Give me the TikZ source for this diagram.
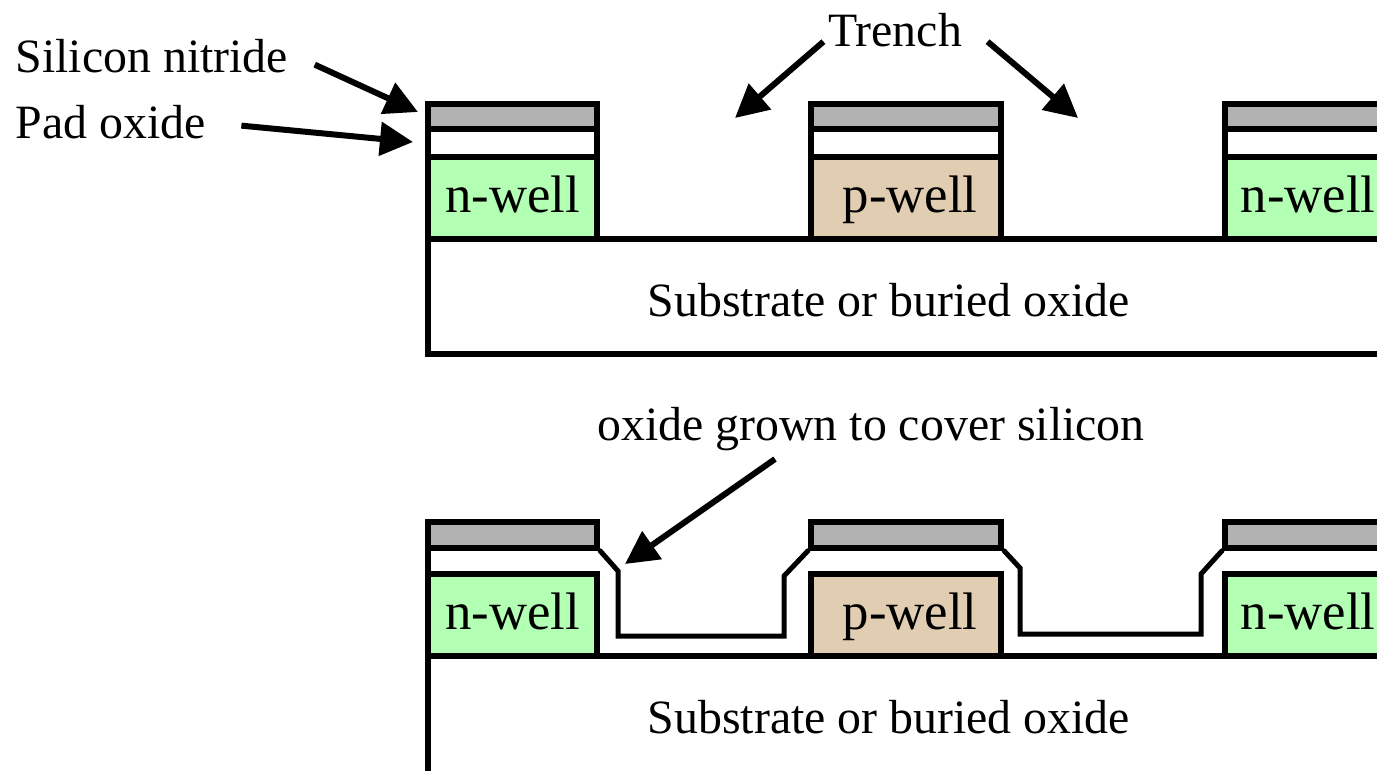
\documentclass[tikz,border=0pt]{standalone}
\usepackage{fontspec}
\setmainfont{Liberation Serif}
\usetikzlibrary{arrows.meta}
\definecolor{nitridegray}{RGB}{178,178,178}
\definecolor{nwellgreen}{RGB}{179,255,179}
\definecolor{pwelltan}{RGB}{225,205,178}
\tikzstyle{label} = [inner sep=0pt, font=\fontsize{13.6}{16}\selectfont]
\tikzstyle{welltext} = [font=\fontsize{15}{16}\selectfont, text height=0.28cm, text depth=0cm]
\tikzstyle{layer} = [draw, line width=0.6mm, minimum height=0cm, inner sep=0pt]
\tikzstyle{nitride} = [layer, fill=nitridegray, minimum height=0.255cm]
\tikzstyle{pad} = [layer, fill=white, minimum height=0.27cm]
\tikzstyle{nwell} = [layer, welltext, fill=nwellgreen, minimum height=0.82cm]
\tikzstyle{pwell} = [layer, welltext, fill=pwelltan, minimum height=0.82cm]
\tikzstyle{base} = [draw, line width=0.6mm]
\tikzstyle{oxide} = [draw, line width=0.5mm, miter limit=10, line cap=round]
\tikzstyle{arrow} = [line width=0.6mm, -{Triangle[length=3.3mm, width=3.3mm]}]

\begin{document}
\begin{tikzpicture}[x=0.01cm, y=-0.01cm]
	\useasboundingbox (0,0) rectangle (1377,770);
	\clip (0,0) rectangle (1377,770);

	% top: trench etched
	\draw [base] (428,239) rectangle (1450,354);
	\node [nitride, minimum width=1.69cm] at (512.5,117) (nit1) {};
	\node [pad, minimum width=1.69cm] at (512.5,143) (pad1) {};
	\node [nwell, minimum width=1.69cm] at (512.5,198) (well1) {n-well};
	\node [nitride, minimum width=1.90cm] at (906,117) (nit2) {};
	\node [pad, minimum width=1.90cm] at (906,143) (pad2) {};
	\node [pwell, minimum width=1.90cm] at (906,198) (well2) {\hspace*{0.08cm}p-well};
	\node [nitride, minimum width=1.66cm] at (1308,117) (nit3) {};
	\node [pad, minimum width=1.66cm] at (1308,143) (pad3) {};
	\node [nwell, minimum width=1.66cm] at (1308,198) (well3) {n-well};

	% bottom: oxide grown
	\draw [base] (428,656) rectangle (1450,800);
	\node [nitride, minimum width=1.69cm] at (512.5,535) (nit4) {};
	\node [nwell, minimum width=1.69cm] at (512.5,615) (well4) {n-well};
	\node [nitride, minimum width=1.90cm] at (906,535) (nit5) {};
	\node [pwell, minimum width=1.90cm] at (906,615) (well5) {\hspace*{0.08cm}p-well};
	\node [nitride, minimum width=1.66cm] at (1308,535) (nit6) {};
	\node [nwell, minimum width=1.66cm] at (1308,615) (well6) {n-well};
	\draw [base] (428,548) -- (428,574);
	\draw [oxide] (nit4.south east) -- (618,571) -- (618,636) -- (784,636) -- (784,576) -- (nit5.south west);
	\draw [oxide] (nit5.south east) -- (1020,568) -- (1020,634) -- (1201,634) -- (1201,574) -- (nit6.south west);

	\node [label, anchor=base west] at (15,73) (nitridelabel) {Silicon nitride};
	\node [label, anchor=base west] at (15,139) (padlabel) {Pad oxide};
	\node [label, anchor=base] at (895,47) (trenchlabel) {Trench};
	\node [label, anchor=base] at (871,440) (grownlabel) {oxide grown to cover silicon};
	\node [label, anchor=base] at (889,316) (sublabel1) {Substrate or buried oxide};
	\node [label, anchor=base] at (889,733) (sublabel2) {Substrate or buried oxide};

	\coordinate (nitridetip) at (418,112);
	\coordinate (padtip) at (413,142);
	\coordinate (trenchtip1) at (735,118);
	\coordinate (trenchtip2) at (1078,118);
	\coordinate (growntip) at (625,564);

	\draw [arrow] ([shift={(26,8)}]nitridelabel.east) -- (nitridetip);
	\draw [arrow] ([shift={(35,3)}]padlabel.east) -- (padtip);
	\draw [arrow] ([shift={(-4,11)}]trenchlabel.west) -- (trenchtip1);
	\draw [arrow] ([shift={(25,11)}]trenchlabel.east) -- (trenchtip2);
	\draw [arrow] ([shift={(-96,8)}]grownlabel.south) -- (growntip);
\end{tikzpicture}
\end{document}
